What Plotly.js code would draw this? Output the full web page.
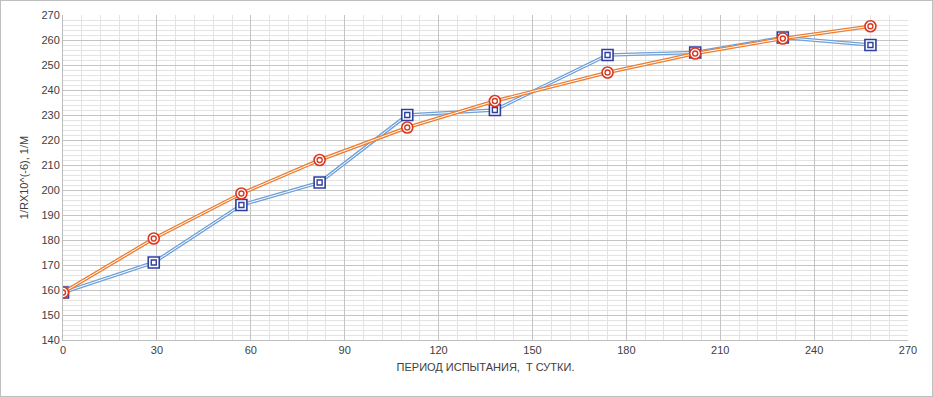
<!DOCTYPE html>
<html><head><meta charset="utf-8">
<script src="https://cdn.plot.ly/plotly-3.0.1.min.js"></script>
<style>html,body{margin:0;padding:0;background:#fff}#c{width:931px;height:395px;border:1px solid #BFBFBF}</style>
</head><body><div id="c"></div>
<script>
const days = [0, 29, 57, 82, 110, 138, 174, 202, 230, 258];
const seriesBlue = [159, 171, 194, 203, 230, 232, 254, 255, 261, 258];
const seriesOrange = [159, 180.6, 198.6, 212, 225, 235.6, 247, 254.6, 260.6, 265.5];
const xTicks = [0, 30, 60, 90, 120, 150, 180, 210, 240, 270];

function lineTraces(y, color, mcolor, sym) {
  return [
    {x: days, y: y, mode: 'lines', line: {color: color, width: 3.5}, hoverinfo: 'skip'},
    {x: days, y: y, mode: 'lines', line: {color: '#ffffff', width: 1}, hoverinfo: 'skip'},
    {x: days, y: y, mode: 'markers', marker: {symbol: sym, size: 11, color: '#fff', line: {color: mcolor, width: 1.6}}},
    {x: days, y: y, mode: 'markers', marker: {symbol: sym + '-open', size: 5, color: mcolor, line: {color: mcolor, width: 1.4}}}
  ];
}
const data = [].concat(
  lineTraces(seriesBlue, '#6FA0D8', '#2E3F9C', 'square'),
  lineTraces(seriesOrange, '#ED7D31', '#D9371F', 'circle')
);
const layout = {
  width: 931, height: 395,
  margin: {l: 62, r: 24, t: 14, b: 56},
  showlegend: false,
  paper_bgcolor: '#fff', plot_bgcolor: '#fff',
  font: {family: 'Liberation Sans, Arial, sans-serif', size: 11, color: '#404040'},
  xaxis: {
    range: [0, 270], tickvals: xTicks, ticks: '', showgrid: true, gridcolor: '#C4C4C4', gridwidth: 1,
    minor: {dtick: 6, showgrid: true, gridcolor: '#E3E3E3', gridwidth: 1},
    showline: true, linecolor: '#BDBDBD', zeroline: false,
    title: {text: 'ПЕРИОД ИСПЫТАНИЯ,  Т СУТКИ.', font: {size: 11, color: '#404040'}, standoff: 8},
    tickfont: {size: 11, color: '#404040'}
  },
  yaxis: {
    range: [140, 270], dtick: 10, ticks: '', showgrid: true, gridcolor: '#C4C4C4', gridwidth: 1,
    minor: {dtick: 2, showgrid: true, gridcolor: '#E3E3E3', gridwidth: 1},
    showline: true, linecolor: '#BDBDBD', zeroline: false,
    title: {text: '1/RX10^(-6), 1/M', font: {size: 11, color: '#404040'}, standoff: 10},
    tickfont: {size: 11, color: '#404040'}
  }
};
Plotly.newPlot('c', data, layout, {displayModeBar: false, staticPlot: true});
</script></body></html>
